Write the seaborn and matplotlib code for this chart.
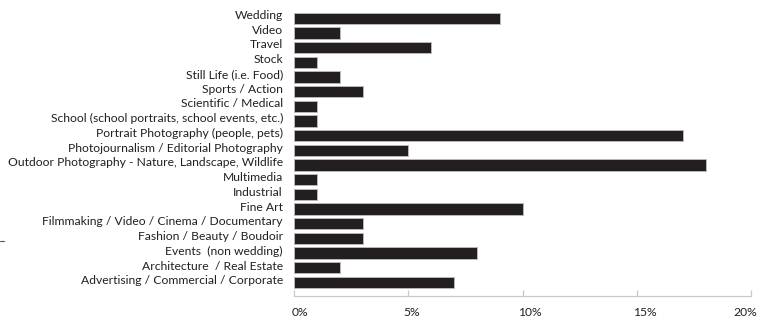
import matplotlib
matplotlib.use("Agg")
import matplotlib.pyplot as plt
import matplotlib.transforms as mtransforms
import seaborn as sns
import pandas as pd
from matplotlib.ticker import FuncFormatter
from matplotlib.lines import Line2D

categories = [
    "Wedding",
    "Video",
    "Travel",
    "Stock",
    "Still Life (i.e. Food)",
    "Sports / Action",
    "Scientific / Medical",
    "School (school portraits, school events, etc.)",
    "Portrait Photography (people, pets)",
    "Photojournalism / Editorial Photography",
    "Outdoor Photography - Nature, Landscape, Wildlife",
    "Multimedia",
    "Industrial",
    "Fine Art",
    "Filmmaking / Video / Cinema / Documentary",
    "Fashion / Beauty / Boudoir",
    "Events  (non wedding)",
    "Architecture  / Real Estate",
    "Advertising / Commercial / Corporate",
]
percent = [9, 2, 6, 1, 2, 3, 1, 1, 17, 5, 18, 1, 1, 10, 3, 3, 8, 2, 7]
x_ticks = [0, 5, 10, 15, 20]

sns.set_theme(style="white")
plt.rcParams["font.family"] = ["Lato", "DejaVu Sans"]

df = pd.DataFrame({"category": categories, "percent": percent})

fig = plt.figure(figsize=(7.57, 3.17), dpi=100)
ax = fig.add_axes([0.3884, 0.0662, 0.9927 - 0.3884, 0.9653 - 0.0662])

sns.barplot(data=df, x="percent", y="category", orient="h", color="#231f20",
            width=0.77, edgecolor="#b8b8b8", linewidth=0.7, ax=ax, saturation=1)
for p in ax.patches:
    p.set_facecolor("#231f20")

ax.set_xlim(0, 20)
ax.set_ylim(18.93, -0.5)
ax.set_xticks(x_ticks)
ax.xaxis.set_major_formatter(FuncFormatter(lambda v, pos: f"{int(v)}%"))
ax.set_xlabel("")
ax.set_ylabel("")

for s in ["top", "right", "left"]:
    ax.spines[s].set_visible(False)
ax.spines["bottom"].set_color("#c8c8c8")
ax.spines["bottom"].set_linewidth(0.9)

ax.tick_params(axis="x", direction="in", length=4.5, width=0.9, color="#c8c8c8",
               pad=8, labelsize=8.7, labelcolor="#231f20", bottom=True)
ax.tick_params(axis="y", length=0, pad=8, labelsize=8.7, labelcolor="#231f20")

# tick labels start slightly left of their tick; the last one is pulled in to fit
offsets_px = [-2, -5, -5, -4, -18]
for lab, dx in zip(ax.get_xticklabels(), offsets_px):
    lab.set_ha("left")
    lab.set_transform(lab.get_transform() +
                      mtransforms.ScaledTranslation(dx / 100, 0, fig.dpi_scale_trans))

# category labels sit slightly above their bar centres
n = len(categories)
for i, lab in enumerate(ax.get_yticklabels()):
    dy = 4.0 - 1.5 * i / (n - 1)
    lab.set_transform(lab.get_transform() +
                      mtransforms.ScaledTranslation(0, dy / 100, fig.dpi_scale_trans))

fig.add_artist(Line2D([0.0, 0.005], [1 - 240.5 / 317, 1 - 240.5 / 317],
                      transform=fig.transFigure, color="#555555", linewidth=0.8))

fig.savefig("out.png", dpi=100)
